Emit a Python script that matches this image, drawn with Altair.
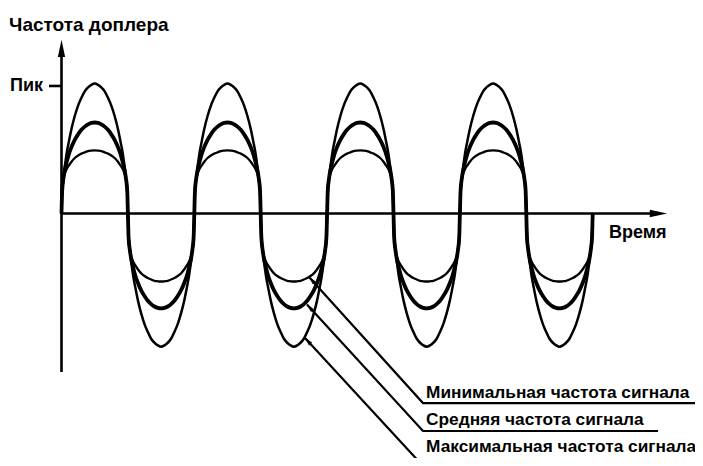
import altair as alt
import pandas as pd

# ---- data (time in half-periods, amplitude relative to "Пик") ----
half_t = [0, 0.01, 0.03, 0.05, 0.08, 0.11, 0.15, 0.2, 0.25, 0.3, 0.35, 0.4, 0.45, 0.5]
prof_max = [0, 0.15, 0.27, 0.36, 0.47, 0.55, 0.65, 0.75, 0.83, 0.89, 0.94, 0.97, 0.99, 1.0]
prof_mid = [0, 0.25, 0.39, 0.48, 0.57, 0.65, 0.73, 0.81, 0.87, 0.92, 0.955, 0.98, 0.995, 1.0]
prof_min = [0, 0.42, 0.55, 0.63, 0.71, 0.76, 0.82, 0.88, 0.92, 0.95, 0.97, 0.99, 0.997, 1.0]

peaks_max = [1.0, -1.025, 1.0, -1.025, 1.0, -1.025, 1.0, -1.025]
peaks_mid = [0.70, -0.73, 0.70, -0.73, 0.70, -0.73, 0.70, -0.73]
peaks_min = [0.485, -0.523, 0.485, -0.523, 0.485, -0.523, 0.485, -0.523]

curve_names = ["max", "mid", "min"]
curve_widths = [2.5, 3.8, 2.3]

label_y_axis = "Частота доплера"
label_peak = "Пик"
label_x_axis = "Время"
legend_labels = ["Минимальная частота сигнала", "Средняя частота сигнала", "Максимальная частота сигнала"]

# callout polylines: tip -> elbow -> end of underline
callout_t = [[3.727, 5.444, 9.571], [3.697, 5.444, 8.984], [3.667, 5.444, 9.617]]
callout_a = [[-0.488, -1.458, -1.458], [-0.70, -1.673, -1.673], [-0.958, -1.942, -1.942]]
arrow_t = [3.768, 3.738, 3.708]
arrow_a = [-0.511, -0.723, -0.980]
label_t = 5.49
label_a = [-1.419, -1.627, -1.838]

T0, T1 = -0.8057, 9.5407
A0, A1 = -1.8808, 1.5808
W, H = 687, 450

# ---- build tables ----
full_t = half_t + [1 - x for x in reversed(half_t[:-1])]
rows = []
for name, width, prof, peaks in zip(curve_names, curve_widths,
                                    [prof_max, prof_mid, prof_min],
                                    [peaks_max, peaks_mid, peaks_min]):
    full_h = prof + list(reversed(prof[:-1]))
    seq = 0
    for k, pk in enumerate(peaks):
        for i, (tt, hh) in enumerate(zip(full_t, full_h)):
            if k > 0 and i == 0:
                continue
            rows.append({"curve": name, "w": width, "seq": seq, "t": k + tt, "a": pk * hh})
            seq += 1
curves = pd.DataFrame(rows)

crow = []
for j in range(3):
    for s in range(3):
        crow.append({"c": j, "seq": s, "t": callout_t[j][s], "a": callout_a[j][s]})
callouts = pd.DataFrame(crow)

xs = alt.Scale(domain=[T0, T1], nice=False, zero=False)
ys = alt.Scale(domain=[A0, A1], nice=False, zero=False)

def X(f="t"):
    return alt.X(f"{f}:Q", scale=xs, axis=None)

def Y(f="a"):
    return alt.Y(f"{f}:Q", scale=ys, axis=None)

lines = alt.Chart(curves).mark_line(interpolate="monotone", color="black").encode(
    x=X(), y=Y(), detail="curve:N", order="seq:Q",
    strokeWidth=alt.StrokeWidth("w:Q", scale=None),
)

axes_df = pd.DataFrame([
    {"t": 0.0, "t2": 0.0, "a": -1.219, "a2": 1.27},     # vertical axis
    {"t": 0.0, "t2": 9.0, "a": 0.0, "a2": 0.0},          # horizontal axis
    {"t": -0.188, "t2": 0.0, "a": 0.981, "a2": 0.981},   # "Пик" tick
])
axes = alt.Chart(axes_df).mark_rule(color="black", strokeWidth=2.6).encode(
    x=X(), x2="t2:Q", y=Y(), y2="a2:Q"
)

heads_df = pd.DataFrame([
    {"t": 0.0, "a": 1.27, "shape": "M0,-1L0.42,1L-0.42,1Z", "size": 300, "ang": 0},
    {"t": 8.99, "a": 0.0, "shape": "M1,0L-1,-0.42L-1,0.42Z", "size": 300, "ang": 0},
] + [
    {"t": arrow_t[j], "a": arrow_a[j], "shape": "M0,-1L0.5,1L-0.5,1Z", "size": 70, "ang": 318}
    for j in range(3)
])
heads = alt.Chart(heads_df).mark_point(filled=True, color="black", opacity=1, strokeWidth=0).encode(
    x=X(), y=Y(),
    shape=alt.Shape("shape:N", scale=None),
    size=alt.Size("size:Q", scale=None),
    angle=alt.Angle("ang:Q", scale=None),
)

call = alt.Chart(callouts).mark_line(color="black", strokeWidth=2.2).encode(
    x=X(), y=Y(), detail="c:N", order="seq:Q"
)

font = "Liberation Sans"
left_text = pd.DataFrame(
    [{"t": -0.79, "a": 1.404, "txt": label_y_axis, "fs": 19},
     {"t": 8.245, "a": -0.188, "txt": label_x_axis, "fs": 18}]
    + [{"t": label_t, "a": label_a[j], "txt": legend_labels[j], "fs": 17.3} for j in range(3)]
)
texts = alt.Chart(left_text).mark_text(
    align="left", baseline="alphabetic", font=font, fontWeight="bold", color="black"
).encode(x=X(), y=Y(), text="txt:N", size=alt.Size("fs:Q", scale=None))

peak_text = alt.Chart(pd.DataFrame([{"t": -0.279, "a": 0.981, "txt": label_peak}])).mark_text(
    align="right", baseline="middle", font=font, fontWeight="bold", fontSize=18, color="black"
).encode(x=X(), y=Y(), text="txt:N")

chart = alt.layer(axes, lines, call, heads, texts, peak_text).properties(
    width=W, height=H, padding=0, autosize=alt.AutoSizeParams(type="none"), background="white"
).configure_view(stroke=None)

chart.save("out.html", embed_options={"renderer": "svg", "actions": False})
